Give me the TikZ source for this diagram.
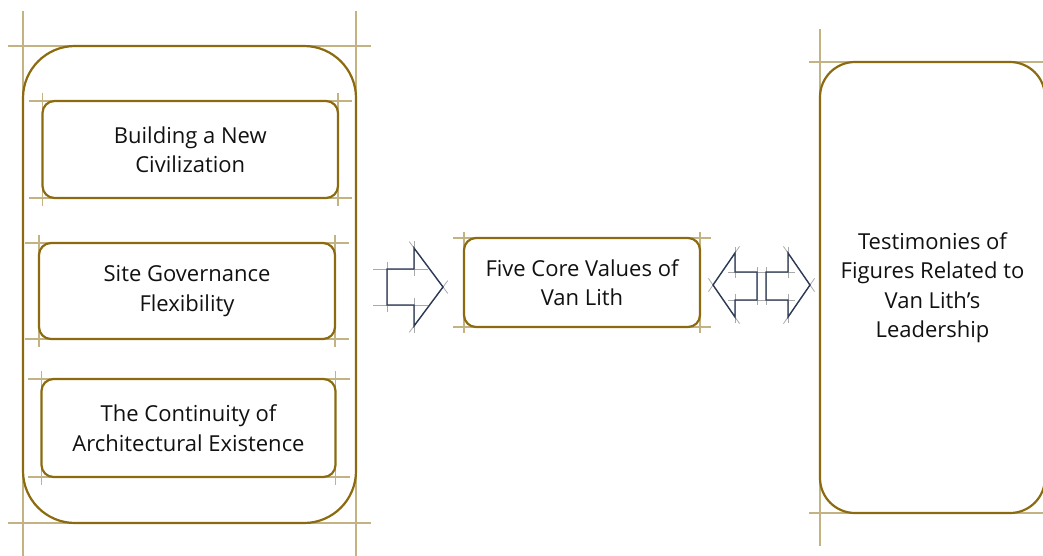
\documentclass[tikz,border=0pt]{standalone}
\usepackage{fontspec}
\setmainfont{Open Sans}
\usetikzlibrary{calc,backgrounds}
\definecolor{gold}{HTML}{8B6A10}
\definecolor{guidegold}{HTML}{C4B382}
\definecolor{navy}{HTML}{2C3A56}
\definecolor{guidegray}{HTML}{A9A9A9}
\definecolor{ink}{HTML}{111111}

% construction lines along the bounding edges of a box node
\newcommand\boxguides[3]{%
  \draw[guide] ($(#1.north west)+(-#2,0)$) -- ($(#1.north east)+(#2,0)$);
  \draw[guide] ($(#1.south west)+(-#2,0)$) -- ($(#1.south east)+(#2,0)$);
  \draw[guide] ($(#1.north west)+(0,-#3)$) -- ($(#1.south west)+(0,#3)$);
  \draw[guide] ($(#1.north east)+(0,-#3)$) -- ($(#1.south east)+(0,#3)$);}
% construction line through one edge of an arrow outline
\newcommand\edgeguide[3][8]{%
  \draw[aguide] ($(#2)!-#1pt!(#3)$) -- ($(#3)!-#1pt!(#2)$);}

\begin{document}
\begin{tikzpicture}[x=1pt,y=-1pt,
  box/.style={draw=gold, line width=2.2pt, rounded corners=#1, inner sep=0pt,
    outer sep=0pt, align=center, text=ink,
    font=\fontsize{22}{29.5}\selectfont},
  box/.default=12pt,
  guide/.style={draw=guidegold, line width=1.1pt},
  aguide/.style={draw=guidegray, line width=0.8pt},
  arrowline/.style={draw=navy, line width=1.4pt, line join=miter}]

\useasboundingbox (0,0) rectangle (1043,555);

% boxes
\node[box=52pt, minimum width=333pt, minimum height=477pt] (outer) at (189.5,284.5) {};
\node[box, minimum width=295.5pt, minimum height=97pt] (b1) at (190.25,149.5)
  {Building a New\\Civilization};
\node[box, minimum width=296pt, minimum height=96pt] (b2) at (187,291)
  {Site Governance\\Flexibility};
\node[box, minimum width=294pt, minimum height=98pt] (b3) at (188.5,428)
  {The Continuity of\\Architectural Existence};
\node[box, minimum width=236pt, minimum height=89pt] (core) at (582,282.5)
  {Five Core Values of\\Van Lith};
\node[box=35pt, minimum width=225pt, minimum height=451pt] (testim) at (932.5,287.5)
  {Testimonies of\\Figures Related to\\Van Lith’s\\Leadership};

\begin{pgfonlayer}{background}
\boxguides{outer}{15}{35}
\boxguides{b1}{14}{8}
\boxguides{b2}{14}{8}
\boxguides{b3}{14}{8}
\boxguides{core}{11}{6}
\boxguides{testim}{11}{33}
\end{pgfonlayer}

% single block arrow
\coordinate (a1) at (387,269); \coordinate (a2) at (414,269);
\coordinate (a3) at (414,248); \coordinate (a4) at (443,287);
\coordinate (a5) at (414,326); \coordinate (a6) at (414,305);
\coordinate (a7) at (387,305);
\edgeguide[14]{a1}{a2} \edgeguide[14]{a7}{a6}
\edgeguide[7]{a7}{a1} \edgeguide[7]{a2}{a3} \edgeguide[7]{a6}{a5}
\edgeguide[8]{a3}{a4} \edgeguide[8]{a4}{a5}
\draw[arrowline] (a1) -- (a2) -- (a3) -- (a4) -- (a5) -- (a6) -- (a7) -- cycle;

% double block arrow, left half
\coordinate (l1) at (713,285); \coordinate (l2) at (735,253);
\coordinate (l3) at (735,272); \coordinate (l4) at (757,272);
\coordinate (l5) at (757,300); \coordinate (l6) at (735,300);
\coordinate (l7) at (735,317);
% right half
\coordinate (r1) at (810,285); \coordinate (r2) at (788,253);
\coordinate (r3) at (788,272); \coordinate (r4) at (766,272);
\coordinate (r5) at (766,300); \coordinate (r6) at (788,300);
\coordinate (r7) at (788,317);
\edgeguide[7]{l3}{r3} \edgeguide[7]{l6}{r6}
\edgeguide[5]{l4}{l5} \edgeguide[5]{r4}{r5}
\edgeguide[6]{l2}{l3} \edgeguide[6]{l7}{l6}
\edgeguide[6]{r2}{r3} \edgeguide[6]{r7}{r6}
\edgeguide[8]{l1}{l2} \edgeguide[8]{l7}{l1}
\edgeguide[8]{r1}{r2} \edgeguide[8]{r7}{r1}
\draw[arrowline] (l1) -- (l2) -- (l3) -- (l4) -- (l5) -- (l6) -- (l7) -- cycle;
\draw[arrowline] (r1) -- (r2) -- (r3) -- (r4) -- (r5) -- (r6) -- (r7) -- cycle;
\end{tikzpicture}
\end{document}
